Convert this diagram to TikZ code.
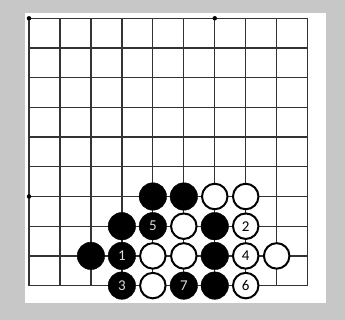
\documentclass[tikz,border=0pt]{standalone}
\usepackage{fontspec}
\setmainfont{Carlito}
\usepackage{tikz}
\definecolor{bggray}{gray}{0.78}
\definecolor{numgray}{gray}{0.85}

\begin{document}
\begin{tikzpicture}[x=30.96pt, y=-29.7pt,
      gridline/.style={line width=1.25pt, black!80},
      hoshi/.style={circle, fill=black, inner sep=0pt, minimum size=4.5pt},
      bstone/.style={circle, draw=black, fill=black, inner sep=0pt,
                     minimum size=27.5pt, text=numgray,
                     font=\fontsize{15}{15}\selectfont},
      wstone/.style={circle, draw=black, fill=white, line width=2pt,
                     inner sep=0pt, minimum size=25.5pt, text=black,
                     font=\fontsize{15}{15}\selectfont}]
    % frame and board
    \fill[bggray] (-29pt,18.3pt) rectangle (316pt,-301.7pt);
    \useasboundingbox (-29pt,18.3pt) rectangle (316pt,-301.7pt);
    \fill[white] (-4pt,5.3pt) rectangle (297pt,-284.4pt);
    % grid
    \foreach \i in {0,...,9} {
      \draw[gridline] (\i,0) -- (\i,9);
      \draw[gridline] (0,\i) -- (9,\i);
    }
    \node[hoshi] (h1) at (0,0) {};
    \node[hoshi] (h2) at (6,0) {};
    \node[hoshi] (h3) at (0,6) {};
    % black stones
    \foreach \c/\r/\n in {4/6/, 5/6/, 3/7/, 4/7/5, 6/7/, 2/8/, 3/8/1,
                          6/8/, 3/9/3, 5/9/7, 6/9/}
      \node[bstone] (b\c\r) at (\c,\r) {\n};
    % white stones
    \foreach \c/\r/\n in {6/6/, 7/6/, 5/7/, 7/7/2, 4/8/, 5/8/, 7/8/4,
                          8/8/, 4/9/, 7/9/6}
      \node[wstone] (w\c\r) at (\c,\r) {\n};
  \end{tikzpicture}
\end{document}
